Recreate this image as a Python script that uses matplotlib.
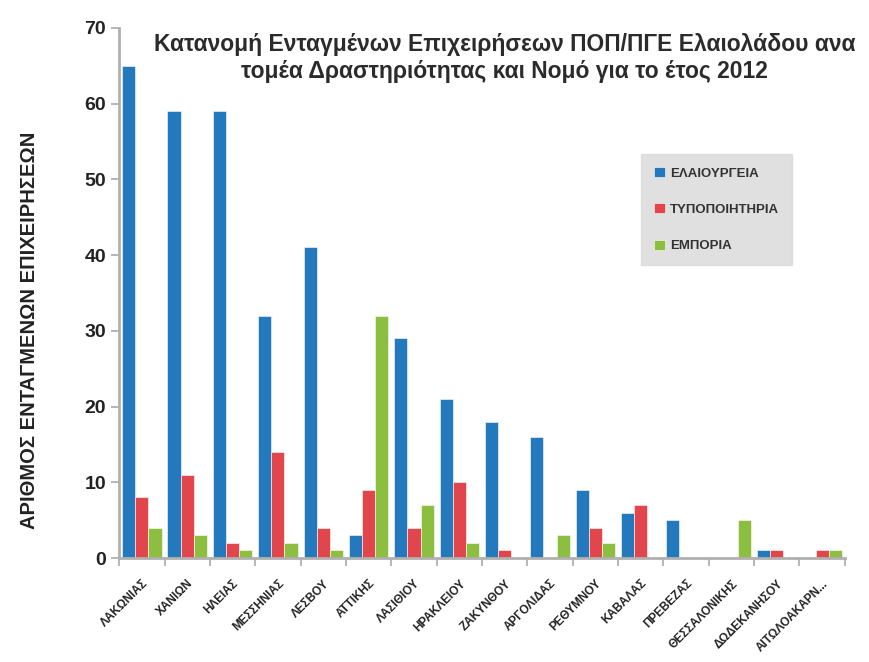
import numpy as np
import matplotlib
matplotlib.use("Agg")
import matplotlib.pyplot as plt

plt.rcParams['font.family'] = ['Liberation Sans', 'DejaVu Sans']

nomoi = ['ΛΑΚΩΝΙΑΣ', 'ΧΑΝΙΩΝ', 'ΗΛΕΙΑΣ', 'ΜΕΣΣΗΝΙΑΣ', 'ΛΕΣΒΟΥ', 'ΑΤΤΙΚΗΣ',
         'ΛΑΣΙΘΙΟΥ', 'ΗΡΑΚΛΕΙΟΥ', 'ΖΑΚΥΝΘΟΥ', 'ΑΡΓΟΛΙΔΑΣ', 'ΡΕΘΥΜΝΟΥ', 'ΚΑΒΑΛΑΣ',
         'ΠΡΕΒΕΖΑΣ', 'ΘΕΣΣΑΛΟΝΙΚΗΣ', 'ΔΩΔΕΚΑΝΗΣΟΥ', 'ΑΙΤΩΛΟΑΚΑΡΝ...']
elaiourgeia = [65, 59, 59, 32, 41, 3, 29, 21, 18, 16, 9, 6, 5, 0, 1, 0]
typopoiitiria = [8, 11, 2, 14, 4, 9, 4, 10, 1, 0, 4, 7, 0, 0, 1, 1]
emporia = [4, 3, 1, 2, 1, 32, 7, 2, 0, 3, 2, 0, 0, 5, 0, 1]

series = [('ΕΛΑΙΟΥΡΓΕΙΑ', elaiourgeia, '#2479bd'),
          ('ΤΥΠΟΠΟΙΗΤΗΡΙΑ', typopoiitiria, '#e0464b'),
          ('ΕΜΠΟΡΙΑ', emporia, '#8cbf3f')]

fig = plt.figure(figsize=(8.7, 6.62), dpi=100)
ax = fig.add_axes([0.137, 0.157, 0.834, 0.801])

x = np.arange(len(nomoi))
w = 0.29
for i, (name, vals, col) in enumerate(series):
    ax.bar(x + (i - 1) * w, vals, w, color=col, label=name,
           edgecolor='white', linewidth=0.4)

ax.set_xlim(-0.5, len(nomoi) - 0.5)
ax.set_ylim(0, 70)
ax.set_yticks(range(0, 71, 10))
ax.tick_params(axis='y', labelsize=14, colors='#aaaaaa', length=6, width=1.2,
               labelcolor='#222222')
for t in ax.get_yticklabels():
    t.set_fontweight('bold')

# ticks between groups, labels under group centres
ax.set_xticks(np.arange(len(nomoi) + 1) - 0.5, minor=False)
ax.set_xticklabels([])
ax.set_xticks(x, minor=True)
ax.set_xticklabels(nomoi, minor=True, rotation=45, ha='right', va='top',
                   fontsize=8.5, fontweight='bold', rotation_mode='anchor')
ax.tick_params(axis='x', which='major', length=6, width=1.2, colors='#aaaaaa')
ax.tick_params(axis='x', which='minor', length=0, pad=14, labelcolor='#222222')

for s in ['top', 'right']:
    ax.spines[s].set_visible(False)
for s in ['left', 'bottom']:
    ax.spines[s].set_color('#b0b0b0')
    ax.spines[s].set_linewidth(2)

ax.set_ylabel('ΑΡΙΘΜΟΣ ΕΝΤΑΓΜΕΝΩΝ ΕΠΙΧΕΙΡΗΣΕΩΝ', fontsize=14.5,
              fontweight='bold', color='#222222')
ax.yaxis.set_label_coords(-0.11, 0.43)

fig.text(0.58, 0.912, 'Κατανομή Ενταγμένων Επιχειρήσεων ΠΟΠ/ΠΓΕ Ελαιολάδου ανα\n'
         'τομέα Δραστηριότητας και Νομό για το έτος 2012',
         ha='center', va='center', fontsize=16.5, fontweight='bold',
         color='#2b2b2b', linespacing=1.2)

leg = ax.legend(loc='upper left', bbox_to_anchor=(0.71, 0.775), frameon=True,
                fontsize=9.5, handlelength=0.8, handleheight=0.8,
                labelspacing=1.8, borderpad=1.0, handletextpad=0.4,
                fancybox=False)
leg.get_frame().set_facecolor('#d9d9d9')
leg.get_frame().set_edgecolor('#d9d9d9')
for t in leg.get_texts():
    t.set_fontweight('bold')
    t.set_color('#333333')

fig.savefig('out.png', dpi=100)
